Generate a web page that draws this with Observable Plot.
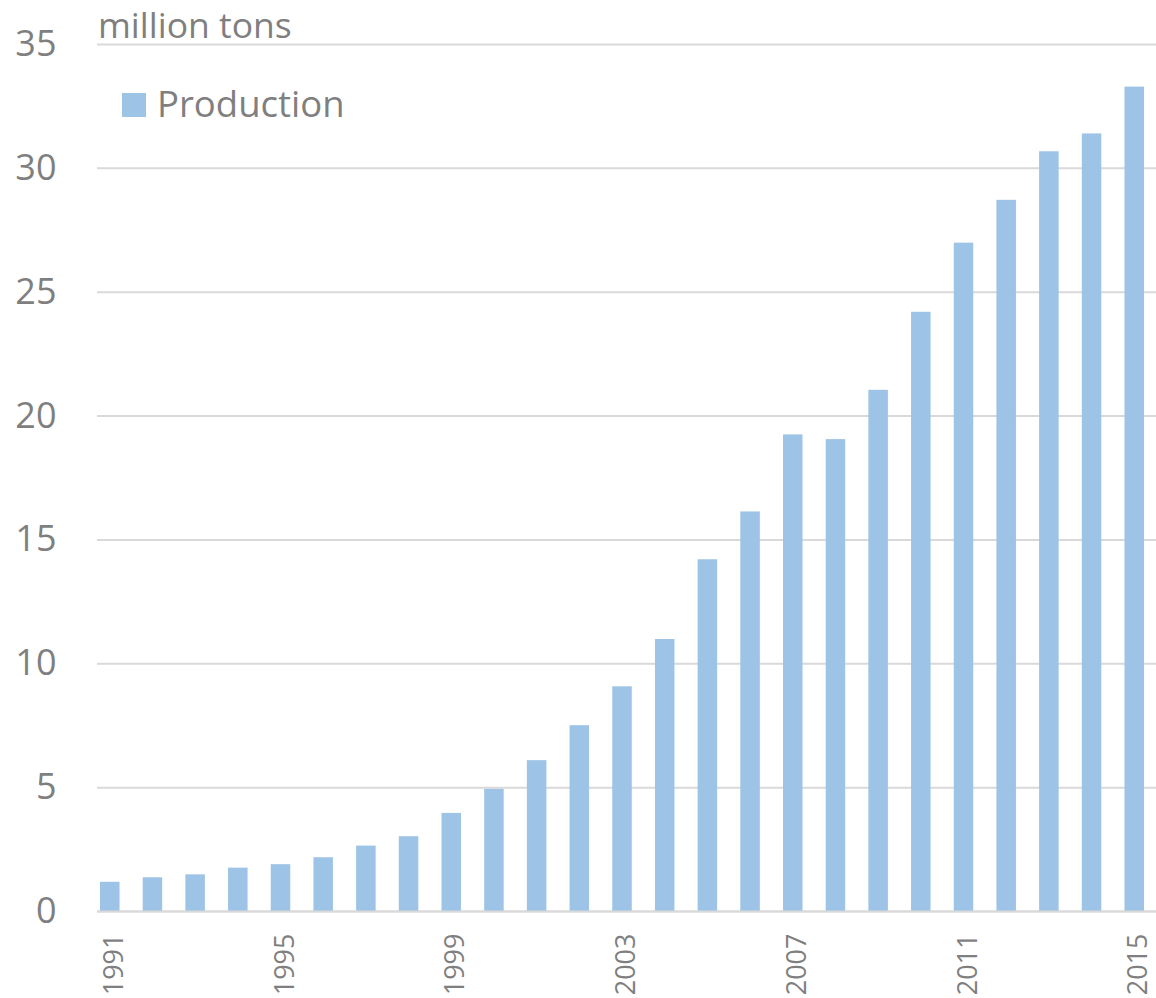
<!DOCTYPE html>
<html>
<head>
<meta charset="utf-8">
<script src="https://cdn.jsdelivr.net/npm/d3@7"></script>
<script src="https://cdn.jsdelivr.net/npm/@observablehq/plot@0.6"></script>
<style>
  html, body { margin: 0; padding: 0; background: #fff; }
  #wrap { position: relative; width: 1156px; height: 998px; font-family: "Open Sans", "Liberation Sans", sans-serif; color: #7f7f7f; }
  #unit { position: absolute; left: 98px; top: 0px; font-size: 35.5px; line-height: normal; white-space: nowrap; }
  #sw { position: absolute; left: 122px; top: 93px; width: 24px; height: 24px; background: #9DC3E6; }
  #legtext { position: absolute; left: 157px; top: 81px; font-size: 36.5px; line-height: 44px; white-space: nowrap; }
</style>
</head>
<body>
<div id="wrap">
  <div id="chart"></div>
  <div id="unit"></div>
  <div id="sw"></div>
  <div id="legtext"></div>
</div>
<script>
const years = [1991, 1992, 1993, 1994, 1995, 1996, 1997, 1998, 1999, 2000, 2001, 2002, 2003,
               2004, 2005, 2006, 2007, 2008, 2009, 2010, 2011, 2012, 2013, 2014, 2015];
const production = [1.18, 1.36, 1.48, 1.75, 1.89, 2.17, 2.64, 3.02, 3.96, 4.93, 6.09, 7.50, 9.07,
                    10.98, 14.20, 16.13, 19.24, 19.05, 21.04, 24.19, 26.98, 28.71, 30.67, 31.39, 33.28];
const yTicks = [0, 5, 10, 15, 20, 25, 30, 35];
const xTickYears = [1991, 1995, 1999, 2003, 2007, 2011, 2015];
const unitLabel = "million tons";
const seriesName = "Production";

const data = years.map((y, i) => ({year: y, value: production[i]}));

document.getElementById("unit").textContent = unitLabel;
document.getElementById("legtext").textContent = seriesName;

const chart = Plot.plot({
  width: 1156,
  height: 998,
  marginTop: 44,
  marginBottom: 87,
  marginLeft: 97,
  marginRight: 0,
  style: {fontFamily: "'Open Sans', 'Liberation Sans', sans-serif", color: "#7f7f7f", background: "#fff"},
  x: {type: "band", domain: years, range: [100, 1144], paddingInner: 0.543, paddingOuter: 0, round: false},
  y: {domain: [0, 35]},
  marks: [
    Plot.gridY(yTicks, {stroke: "#d9d9d9", strokeOpacity: 1, strokeWidth: 2}),
    Plot.barY(data, {x: "year", y: "value", fill: "#9DC3E6"}),
    Plot.ruleY([0], {stroke: "#d9d9d9", strokeWidth: 2}),
    Plot.axisY({ticks: yTicks, tickSize: 0, tickPadding: 41, fontSize: 36, label: null, fill: "#7f7f7f"}),
    Plot.axisX({ticks: xTickYears, tickFormat: d => String(d), tickSize: 0, tickRotate: -90, tickPadding: 22, fontSize: 27, label: null, fill: "#7f7f7f", dx: 4})
  ]
});
document.getElementById("chart").appendChild(chart);
</script>
</body>
</html>
